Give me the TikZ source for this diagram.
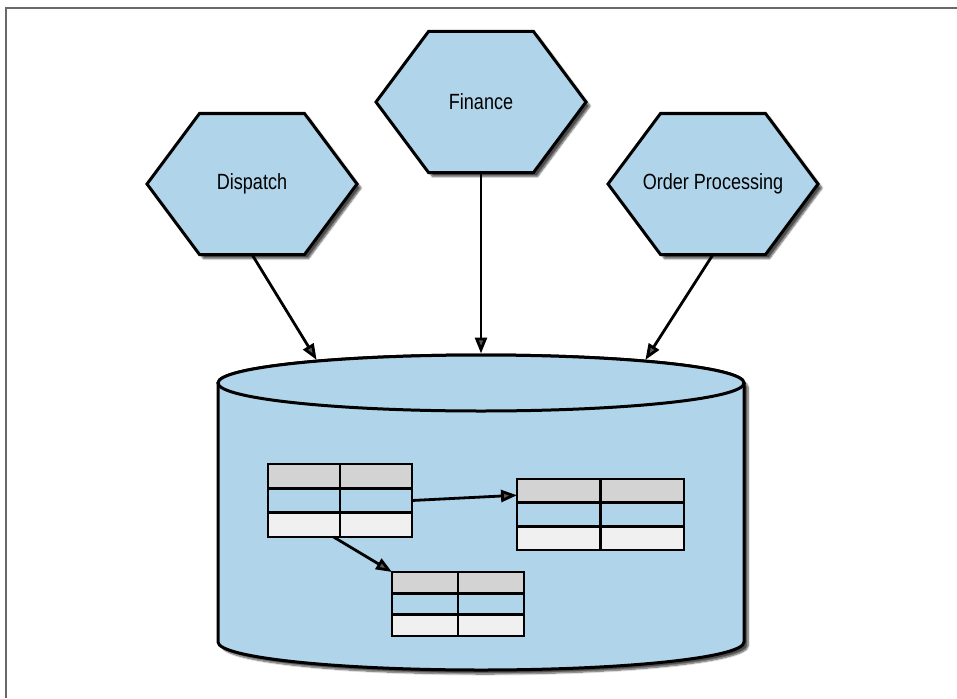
\documentclass[tikz,border=0pt]{standalone}
\usepackage{fontspec}
\newfontfamily\hexfont{Liberation Sans}[FakeStretch=0.82]
\usetikzlibrary{arrows.meta,shapes.geometric,shadows.blur}
\definecolor{dbblue}{RGB}{176,212,234}
\definecolor{hdrgray}{RGB}{211,211,211}
\definecolor{rowwhite}{RGB}{240,240,240}
\definecolor{framegray}{RGB}{105,105,105}

\begin{document}
\begin{tikzpicture}[x=1pt, y=-1pt, >={Triangle[length=16pt,width=12pt]}, line width=2.4pt,
    softshadow/.style={blur shadow={shadow xshift=4pt, shadow yshift=-4pt, shadow blur steps=8, shadow opacity=70}},
    hexa/.style={draw, line width=3pt, fill=dbblue, line join=miter, softshadow},
    service/.style={minimum width=210pt, minimum height=141pt, inner sep=0pt, outer sep=0pt,
        font=\hexfont\fontsize{22}{26}\selectfont},
    link/.style={->, line width=2.8pt},
    tbl/.style={draw, inner sep=0pt, outer sep=0pt}]
    \useasboundingbox (0,0) rectangle (957,698);
    \draw[framegray, line width=1.5pt] (6,698) -- (6,8) -- (957,8);

    % database
    \draw[fill=dbblue, line width=3pt, softshadow] (218,383) -- (218,642)
        arc[start angle=180, end angle=0, x radius=263, y radius=28]
        -- (744,383) arc[start angle=0, end angle=-180, x radius=263, y radius=28] -- cycle;
    \node[ellipse, draw, line width=3pt, fill=dbblue, minimum width=526pt, minimum height=56pt, inner sep=0pt] (dbtop) at (481,383) {};

    % tables
    \foreach \n/\x/\y/\w/\h in {t1/268/464/144/73, t2/517/479/167/71, t3/392/572/132/64} {
        \fill[hdrgray] (\x,\y) rectangle ++(\w,\h/3);
        \fill[rowwhite] (\x,\y+2*\h/3) rectangle ++(\w,\h/3);
        \draw (\x,\y+\h/3) -- ++(\w,0) (\x,\y+2*\h/3) -- ++(\w,0) (\x+\w/2,\y) -- ++(0,\h);
        \node[tbl, minimum width=\w pt, minimum height=\h pt, anchor=north west] (\n) at (\x,\y) {};
    }
    \draw[link] (t1.east) -- (t2.167);
    \draw[link] (t1.260) -- (t3.north west);

    % services
    \foreach \n/\x/\y/\t in {dispatch/252/184/Dispatch, finance/481/102/Finance, order/713/184/Order Processing} {
        \draw[hexa] (\x-105,\y) -- (\x-52.5,\y-70.5) -- (\x+52.5,\y-70.5) -- (\x+105,\y)
            -- (\x+52.5,\y+70.5) -- (\x-52.5,\y+70.5) -- cycle;
        \node[service] (\n) at (\x,\y) {\t};
    }

    \draw[link] (dispatch.south) -- (dbtop.172);
    \draw[link] (finance.south) -- (dbtop.north);
    \draw[link] (order.south) -- (dbtop.8);
\end{tikzpicture}
\end{document}
